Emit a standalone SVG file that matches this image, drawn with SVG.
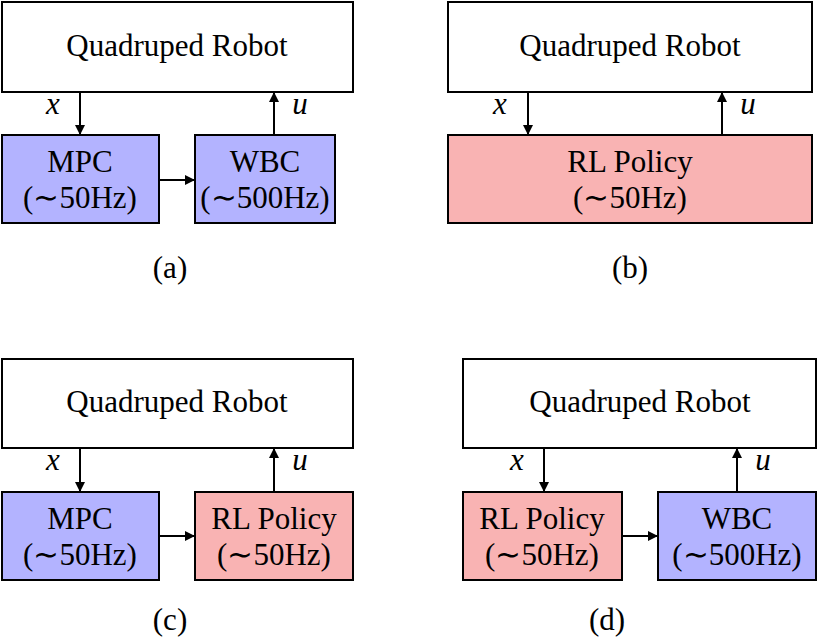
<svg xmlns="http://www.w3.org/2000/svg" width="820" height="641" viewBox="0 0 820 641">
<style>
rect{stroke:#000;stroke-width:2}
.w{fill:#fff}.b{fill:#b3b3ff}.r{fill:#f9b3b3}
text{font-family:"Liberation Serif",serif;font-size:31px;text-anchor:middle;fill:#000}
.m{font-style:italic}
line{stroke:#000;stroke-width:2;marker-end:url(#a)}
</style>
<defs><marker id="a" viewBox="0 0 10 10" refX="10" refY="5" markerWidth="12" markerHeight="10" markerUnits="userSpaceOnUse" orient="auto"><path d="M0,0L10,5L0,10z"/></marker></defs>
<rect width="820" height="641" fill="#fff" style="stroke:none"/>
<g id="a-robot"><rect class="w" x="2" y="2" width="351" height="90"/><text x="177" y="56">Quadruped Robot</text></g>
<g id="a-mpc"><rect class="b" x="2" y="135" width="157" height="88"/><text x="80" y="172">MPC</text><text x="80" y="208">(∼50Hz)</text></g>
<g id="a-wbc"><rect class="b" x="195" y="135" width="140" height="88"/><text x="265" y="172">WBC</text><text x="265" y="208">(∼500Hz)</text></g>
<text x="170" y="278">(a)</text>
<g id="b-robot"><rect class="w" x="448" y="2" width="364" height="90"/><text x="630" y="56">Quadruped Robot</text></g>
<g id="b-rl"><rect class="r" x="448" y="135" width="364" height="88"/><text x="630" y="172">RL Policy</text><text x="630" y="208">(∼50Hz)</text></g>
<text x="630" y="278">(b)</text>
<g id="c-robot"><rect class="w" x="2" y="359" width="351" height="89"/><text x="177" y="412">Quadruped Robot</text></g>
<g id="c-mpc"><rect class="b" x="2" y="492" width="157" height="88"/><text x="80" y="529">MPC</text><text x="80" y="565">(∼50Hz)</text></g>
<g id="c-rl"><rect class="r" x="195" y="492" width="158" height="88"/><text x="274" y="529">RL Policy</text><text x="274" y="565">(∼50Hz)</text></g>
<text x="170" y="630">(c)</text>
<g id="d-robot"><rect class="w" x="463" y="359" width="353" height="89"/><text x="640" y="412">Quadruped Robot</text></g>
<g id="d-rl"><rect class="r" x="463" y="492" width="159" height="88"/><text x="542" y="529">RL Policy</text><text x="542" y="565">(∼50Hz)</text></g>
<g id="d-wbc"><rect class="b" x="658" y="492" width="158" height="88"/><text x="737" y="529">WBC</text><text x="737" y="565">(∼500Hz)</text></g>
<text x="607" y="630">(d)</text>
<g id="connectors">
<line x1="80" y1="92" x2="80" y2="135"/><line x1="274" y1="135" x2="274" y2="92"/><line x1="159" y1="180" x2="195" y2="180"/>
<line x1="528" y1="92" x2="528" y2="135"/><line x1="722" y1="135" x2="722" y2="92"/>
<line x1="80" y1="448" x2="80" y2="492"/><line x1="274" y1="492" x2="274" y2="448"/><line x1="159" y1="536" x2="195" y2="536"/>
<line x1="544" y1="448" x2="544" y2="492"/><line x1="737" y1="492" x2="737" y2="448"/><line x1="622" y1="536" x2="658" y2="536"/>
<text class="m" x="53" y="114">x</text><text class="m" x="300" y="114">u</text>
<text class="m" x="500" y="114">x</text><text class="m" x="748" y="114">u</text>
<text class="m" x="53" y="470">x</text><text class="m" x="300" y="470">u</text>
<text class="m" x="517" y="470">x</text><text class="m" x="763" y="470">u</text>
</g>
</svg>
